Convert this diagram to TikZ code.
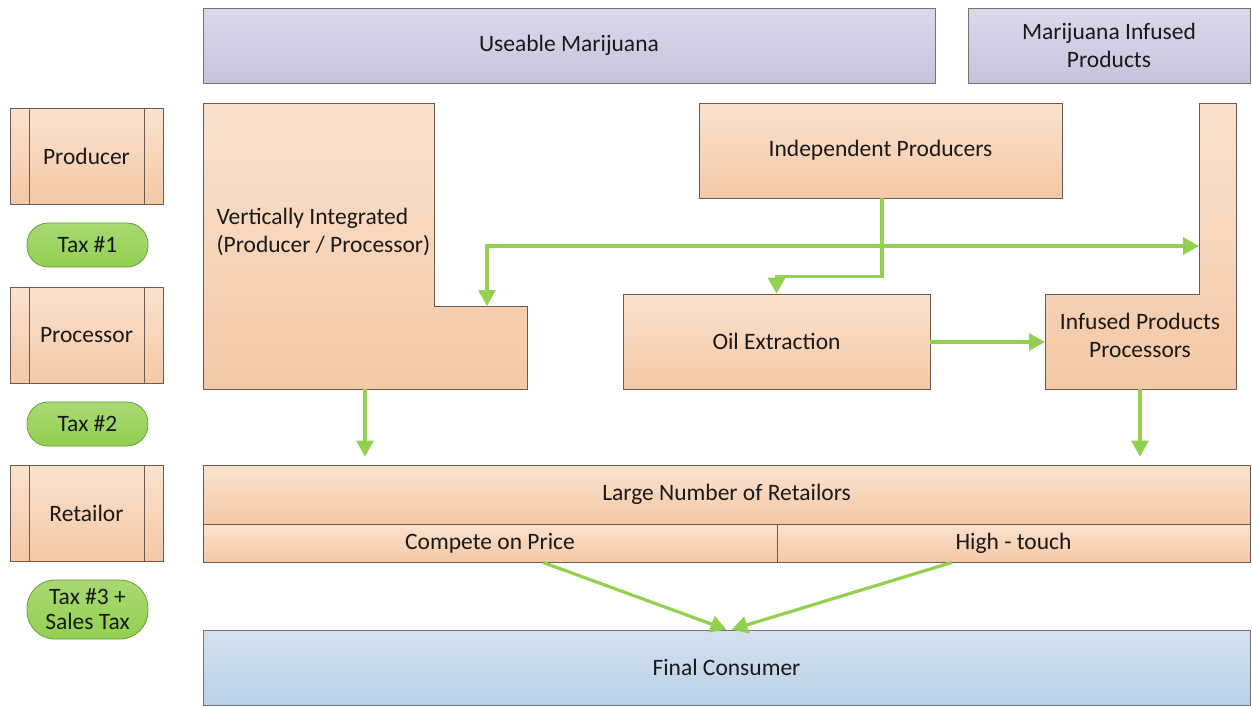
\documentclass[tikz,border=0pt]{standalone}
\usepackage{fontspec}
\setmainfont{Carlito}
\usetikzlibrary{arrows.meta}

\definecolor{peachtop}{HTML}{FBE2CE}
\definecolor{peachbot}{HTML}{F4C8A5}
\definecolor{peachline}{HTML}{6E5A4E}
\definecolor{lilactop}{HTML}{DCD8EA}
\definecolor{lilacbot}{HTML}{C8C3DD}
\definecolor{bluetop}{HTML}{D3E1EF}
\definecolor{bluebot}{HTML}{BAD0E6}
\definecolor{taxgreen}{HTML}{92D050}
\definecolor{taxline}{HTML}{6E9C3E}
\definecolor{arrowgreen}{HTML}{92D050}

\begin{document}
\begin{tikzpicture}[x=1pt,y=-1pt,
    font=\fontsize{23.5}{28}\selectfont, text=black!90,
    peach/.style={draw=peachline, line width=0.8pt, top color=peachtop, bottom color=peachbot},
    box/.style={peach, rectangle, inner sep=0pt},
    topbox/.style={rectangle, inner sep=0pt, draw=black!55, line width=0.8pt, top color=lilactop, bottom color=lilacbot},
    stage/.style={box, minimum width=153pt, minimum height=96pt},
    tax/.style={rectangle, rounded corners=21pt, draw=taxline, line width=0.8pt,
      top color=taxgreen!80!white, bottom color=taxgreen, minimum width=121pt, align=center, inner sep=2pt},
    flow/.style={draw=arrowgreen, line width=3.2pt, -{Triangle[length=16pt,width=17pt]}}]
  \useasboundingbox (0,0) rectangle (1252,707);

  % product types
  \node[topbox, minimum width=732pt, minimum height=75pt] (useable) at (569,45.5) {Useable Marijuana};
  \node[topbox, minimum width=282pt, minimum height=75pt, align=center] (infusedprod) at (1109,45.5) {Marijuana Infused\\Products};

  % stages and taxes
  \node[stage] (producer) at (86.5,156) {Producer};
  \node[stage] (processor) at (86.5,335) {Processor};
  \node[stage] (retailor) at (86.5,513) {Retailor};
  \foreach \s in {producer,processor,retailor} {
    \draw[peachline, line width=0.8pt] ([xshift=20pt]\s.north west) -- ([xshift=20pt]\s.south west);
    \draw[peachline, line width=0.8pt] ([xshift=-19pt]\s.north east) -- ([xshift=-19pt]\s.south east);
  }
  \node[tax, minimum height=44pt] (tax1) at (87.5,245) {Tax \#1};
  \node[tax, minimum height=44pt] (tax2) at (87.5,424) {Tax \#2};
  \node[tax, minimum height=59pt, rounded corners=28pt, font=\fontsize{23.5}{25}\selectfont] (tax3) at (87.5,609.5) {Tax \#3 +\\Sales Tax};

  % vertically integrated (L shape)
  \draw[peach] (203,103) -- (434,103) -- (434,306) -- (527,306) -- (527,389) -- (203,389) -- cycle;
  \node[anchor=west, align=left] (vi) at (213,232) {Vertically Integrated\\(Producer / Processor)};
  \coordinate (vinotch) at (487,306);
  \coordinate (vibot) at (365,389);

  % infused products processors (L shape)
  \draw[peach] (1199,103) -- (1236,103) -- (1236,389) -- (1045,389) -- (1045,294) -- (1199,294) -- cycle;
  \node[align=center] (ipp) at (1140,335) {Infused Products\\Processors};
  \coordinate (ippin) at (1199,246);
  \coordinate (ippleft) at (1045,342);
  \coordinate (ippbot) at (1140,389);

  \node[box, minimum width=363pt, minimum height=95pt] (indep) at (880.5,150.5) {Independent Producers};
  \node[box, minimum width=307pt, minimum height=95pt] (oil) at (776.5,341.5) {Oil Extraction};

  % retail
  \node[box, minimum width=1047pt, minimum height=59pt] (retail) at (726.5,494.5) {Large Number of Retailors};
  \node[box, minimum width=574pt, minimum height=38pt] (compete) at (490,543) {Compete on Price};
  \node[box, minimum width=473pt, minimum height=38pt] (hightouch) at (1013.5,543) {High - touch};

  \node[rectangle, inner sep=0pt, draw=black!55, line width=0.8pt, top color=bluetop, bottom color=bluebot,
    minimum width=1047pt, minimum height=75pt] (final) at (726.5,667.5) {Final Consumer};

  % flows
  \coordinate (split) at (882,246);
  \draw[flow] (indep.south -| split) -- ++(0,78) -| (oil.north);
  \draw[flow] (split) -- (ippin);
  \draw[flow] (split) -| (vinotch);
  \draw[flow] (oil.east |- ippleft) -- (ippleft);
  \draw[flow, shorten >=8pt] (vibot) -- (vibot |- retail.north);
  \draw[flow, shorten >=8pt] (ippbot) -- (ippbot |- retail.north);
  \draw[flow] ([xshift=53pt]compete.south) -- ([xshift=0pt]final.north);
  \draw[flow] ([xshift=-61.5pt]hightouch.south) -- ([xshift=5pt]final.north);
\end{tikzpicture}
\end{document}
